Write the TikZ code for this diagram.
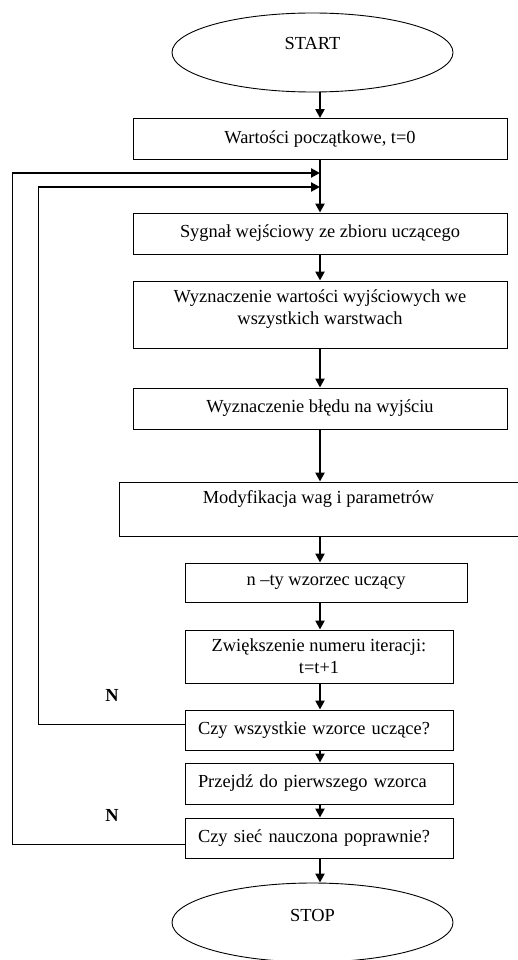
\documentclass[tikz,border=0pt]{standalone}
\usepackage{fontspec}
\setmainfont{Liberation Serif}
\usepackage{tikz}
\usetikzlibrary{arrows.meta,shapes.geometric,positioning}

\begin{document}
\begin{tikzpicture}[
        x=1pt, y=-1pt,
        every node/.style={font=\fontsize{18.4}{22}\selectfont},
        block/.style={draw, rectangle, line width=0.9pt, align=center, inner sep=2pt, minimum height=41pt},
        question/.style={block, align=left, text width=242pt, inner xsep=13pt},
        terminal/.style={draw, ellipse, line width=0.9pt, inner sep=0pt, minimum width=281pt, minimum height=79pt},
        flow/.style={line width=2.6pt, -{Triangle[length=9pt,width=9pt]}},
        back/.style={line width=0.9pt},
        backtip/.style={flow, line width=2.2pt},
        nlabel/.style={font=\fontsize{18.4}{22}\selectfont\bfseries}
    ]
    \useasboundingbox (0,0) rectangle (517,960);

    % Nodes
    \node[terminal, text depth=19pt] (start) at (312.5,52.5) {START};
    \node[block, minimum width=374pt] (init) at (320,139) {Wartości początkowe, t=0};
    \node[block, minimum width=374pt] (input) at (320,233.5) {Sygnał wejściowy ze zbioru uczącego};
    \node[block, minimum width=374pt, minimum height=67pt, text depth=14.5pt] (output) at (320,314.5)
        {Wyznaczenie wartości wyjściowych we\\ wszystkich warstwach};
    \node[block, minimum width=374pt] (error) at (320,408.5) {Wyznaczenie błędu na wyjściu};
    \node[block, minimum width=399pt, minimum height=54pt, text depth=23.5pt] (update) at (318.5,509)
        {Modyfikacja wag i parametrów};
    \node[block, minimum width=282pt, minimum height=39pt] (pattern) at (326,582.5) {n –ty wzorzec uczący};
    \node[block, minimum width=268pt, minimum height=53pt] (iter) at (319,656.5)
        {Zwiększenie numeru iteracji:\\ t=t+1};
    \node[question, minimum height=40pt] (allpat) at (319,730) {Czy wszystkie wzorce uczące?};
    \node[question] (first) at (319,783.5) {Przejdź do pierwszego wzorca};
    \node[question, minimum height=40pt] (trained) at (319,838) {Czy sieć nauczona poprawnie?};
    \node[terminal, text depth=15pt] (stop) at (312.5,922.5) {STOP};

    \node[nlabel] (no1) at (112,695) {N};
    \node[nlabel] (no2) at (112,815) {N};

    % Main flow
    \draw[flow] (start.south -| init.north) -- (init.north);
    \draw[flow] (init.south) -- (input.north);
    \draw[flow] (input.south) -- (output.north);
    \draw[flow] (output.south) -- (error.north);
    \draw[flow] (error.south) -- (error.south |- update.north);
    \draw[flow] (update.south -| init.south) -- (pattern.north -| init.south);
    \draw[flow] (pattern.south -| init.south) -- (iter.north -| init.south);
    \draw[flow] (iter.south -| init.south) -- (allpat.north -| init.south);
    \draw[flow] (allpat.south -| init.south) -- (first.north -| init.south);
    \draw[flow] (first.south -| init.south) -- (trained.north -| init.south);
    \draw[flow] (trained.south -| init.south) -- (stop.north -| init.south);

    % Loops back
    \coordinate (outer) at (12,173);
    \coordinate (inner) at (38,187);
    \coordinate (join1) at (320,173);
    \coordinate (join2) at (320,187);
    \draw[back] ([yshift=6pt]allpat.west) -| (inner);
    \draw[backtip] (inner) -- (join2);
    \draw[back] ([yshift=-6pt]trained.west) -| (outer);
    \draw[backtip] (outer) -- (join1);

\end{tikzpicture}
\end{document}
